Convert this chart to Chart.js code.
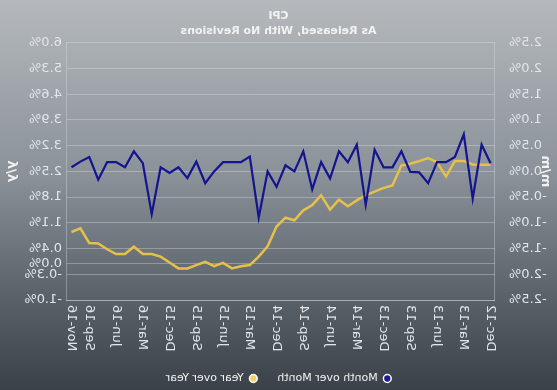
<!DOCTYPE html>
<html>
<head>
<meta charset="utf-8">
<script src="https://cdn.jsdelivr.net/npm/chart.js@4.4.1/dist/chart.umd.min.js"></script>
<style>
  html, body { margin: 0; padding: 0; background: #2f363d; }
  #cpiChart {
    display: block;
    background: linear-gradient(to bottom, #b5b9bd 0%, #8a9198 45%, #5b636b 75%, #3a4149 100%);
    transform: scaleX(-1); /* the reference is drawn mirrored */
  }
</style>
</head>
<body>
<canvas id="cpiChart" width="557" height="390"></canvas>
<script>
// Monthly CPI, Dec-12 .. Nov-16
const monthLabels = [
  'Dec-12', 'Jan-13', 'Feb-13', 'Mar-13', 'Apr-13', 'May-13', 'Jun-13', 'Jul-13', 'Aug-13', 'Sep-13', 'Oct-13', 'Nov-13',
  'Dec-13', 'Jan-14', 'Feb-14', 'Mar-14', 'Apr-14', 'May-14', 'Jun-14', 'Jul-14', 'Aug-14', 'Sep-14', 'Oct-14', 'Nov-14',
  'Dec-14', 'Jan-15', 'Feb-15', 'Mar-15', 'Apr-15', 'May-15', 'Jun-15', 'Jul-15', 'Aug-15', 'Sep-15', 'Oct-15', 'Nov-15',
  'Dec-15', 'Jan-16', 'Feb-16', 'Mar-16', 'Apr-16', 'May-16', 'Jun-16', 'Jul-16', 'Aug-16', 'Sep-16', 'Oct-16', 'Nov-16'
];

const monthOverMonth = [
  0.16, 0.52, -0.53, 0.72, 0.28, 0.18, 0.18, -0.23, -0.02, -0.01, 0.39, 0.08,
  0.08, 0.42, -0.65, 0.52, 0.18, 0.39, -0.14, 0.18, -0.35, 0.39, 0.00, 0.12,
  -0.30, 0.00, -0.90, 0.29, 0.18, 0.18, 0.18, 0.00, -0.23, 0.19, -0.13, 0.08,
  -0.03, 0.08, -0.83, 0.16, 0.39, 0.08, 0.18, 0.18, -0.16, 0.28, 0.19, 0.08
];

const yearOverYear = [
  2.68, 2.68, 2.69, 2.78, 2.78, 2.36, 2.75, 2.86, 2.78, 2.71, 2.66, 2.12,
  2.05, 1.95, 1.85, 1.71, 1.55, 1.73, 1.46, 1.85, 1.58, 1.44, 1.17, 1.24,
  1.00, 0.46, 0.18, -0.05, -0.08, -0.14, 0.01, -0.08, 0.04, -0.05, -0.14, -0.14,
  0.02, 0.18, 0.25, 0.25, 0.45, 0.25, 0.25, 0.38, 0.54, 0.55, 0.95, 0.85
];

const yoyTicks = [-1.0, -0.3, 0.0, 0.4, 1.1, 1.8, 2.5, 3.2, 3.9, 4.6, 5.3, 6.0];

const textColor = '#f2f2f2';
const tickColor = '#e2e6e9';
const gridColor = 'rgba(225,230,235,0.35)';

const ctx = document.getElementById('cpiChart').getContext('2d');

new Chart(ctx, {
  type: 'line',
  data: {
    labels: monthLabels,
    datasets: [
      {
        label: 'Month over Month',
        data: monthOverMonth,
        yAxisID: 'mm',
        borderColor: '#14148f',
        backgroundColor: '#1a1a9a',
        borderWidth: 2.2,
        pointRadius: 0,
        tension: 0
      },
      {
        label: 'Year over Year',
        data: yearOverYear,
        yAxisID: 'yy',
        borderColor: '#e6c04a',
        backgroundColor: '#f0d26a',
        borderWidth: 2.5,
        pointRadius: 0,
        tension: 0
      }
    ]
  },
  options: {
    responsive: false,
    animation: false,
    layout: { padding: { top: 3, bottom: -4 } },
    plugins: {
      title: {
        display: true,
        text: ['CPI', 'As Released, With No Revisions'],
        color: textColor,
        font: { family: 'DejaVu Sans', size: 11, weight: 'bold', lineHeight: 1.4 },
        padding: { top: 5, bottom: 4 }
      },
      legend: {
        position: 'bottom',
        labels: {
          color: textColor,
          font: { family: 'DejaVu Sans', size: 11 },
          usePointStyle: true,
          pointStyle: 'circle',
          boxWidth: 8,
          boxHeight: 5.5,
          padding: 20,
          generateLabels(chart) {
            return Chart.defaults.plugins.legend.labels.generateLabels(chart).map(item => {
              item.strokeStyle = '#ffffff';
              item.lineWidth = 1.5;
              return item;
            });
          }
        }
      },
      tooltip: { enabled: false }
    },
    scales: {
      x: {
        offset: true,
        afterFit(scale) { scale.height = 53; },
        grid: { display: false, drawTicks: false },
        border: { color: gridColor },
        ticks: {
          color: tickColor,
          font: { family: 'DejaVu Sans', size: 13 },
          autoSkip: false,
          minRotation: 90,
          maxRotation: 90,
          padding: 5,
          callback(value, index) {
            return (index % 3 === 0 || index === monthLabels.length - 1) ? monthLabels[index] : '';
          }
        }
      },
      mm: {
        position: 'left',
        min: -2.5,
        max: 2.5,
        afterFit(scale) { scale.width = 62; },
        grid: { display: false },
        border: { color: gridColor },
        title: {
          display: true,
          text: 'm/m',
          color: textColor,
          font: { family: 'DejaVu Sans', size: 13, weight: 'bold' },
          padding: 4
        },
        ticks: {
          stepSize: 0.5,
          color: tickColor,
          font: { family: 'DejaVu Sans', size: 13 },
          padding: 6,
          callback: v => v.toFixed(1) + '%'
        }
      },
      yy: {
        position: 'right',
        min: -1.0,
        max: 6.0,
        afterFit(scale) { scale.width = 67; },
        afterBuildTicks(scale) {
          scale.ticks = yoyTicks.map(v => ({ value: v }));
        },
        grid: { color: gridColor, drawTicks: false },
        border: { color: gridColor },
        title: {
          display: true,
          text: 'y/y',
          color: textColor,
          font: { family: 'DejaVu Sans', size: 13, weight: 'bold' },
          padding: 4
        },
        ticks: {
          color: tickColor,
          font: { family: 'DejaVu Sans', size: 13 },
          padding: 5,
          callback: v => v.toFixed(1) + '%'
        }
      }
    }
  }
});
</script>
</body>
</html>
